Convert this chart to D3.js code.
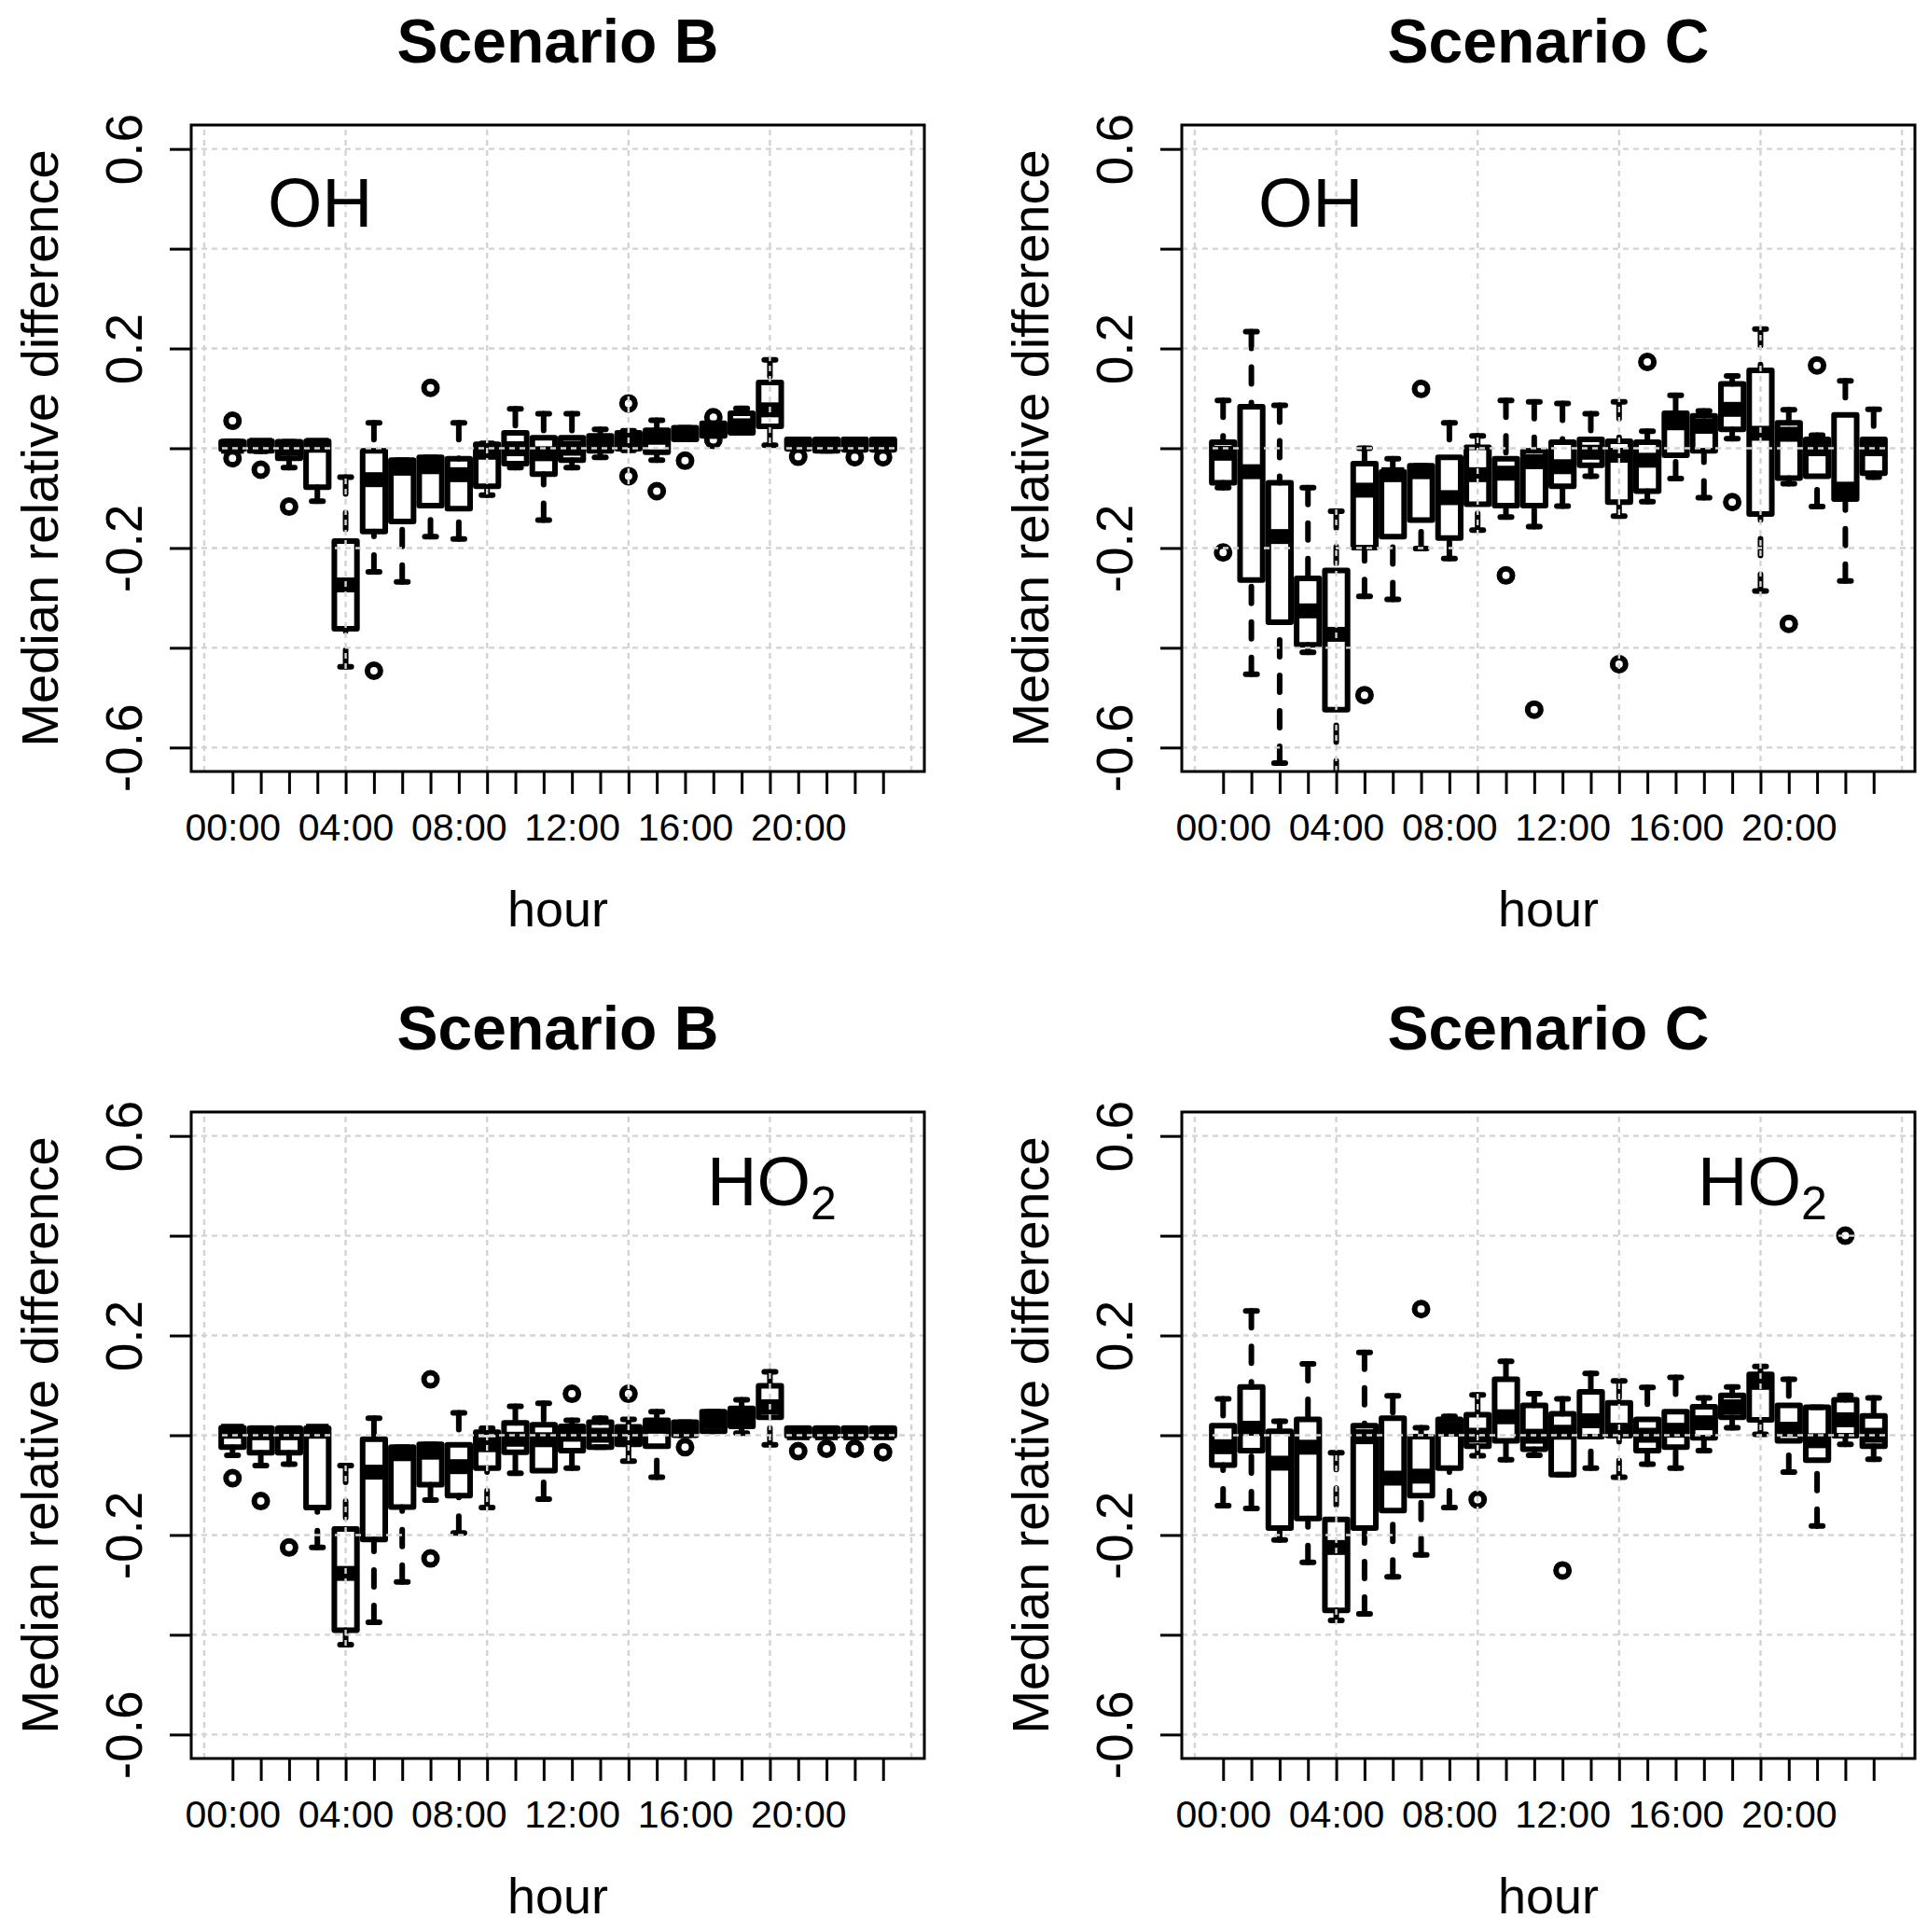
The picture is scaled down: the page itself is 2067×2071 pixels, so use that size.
<!DOCTYPE html>
<html>
<head>
<meta charset="utf-8">
<script src="https://cdn.jsdelivr.net/npm/d3@7/dist/d3.min.js"></script>
<style>
  body { margin: 0; background: #fff; }
  text { font-family: "Liberation Sans", Arial, Helvetica, sans-serif; }
</style>
</head>
<body>
<script>
var W = 2067, H = 2071;

// hour labels, one per box (R drops the overlapping ones, so only every 4th shows)
var hours = d3.range(24).map(function(h) { return (h < 10 ? "0" : "") + h + ":00"; });
var yTicks = [-0.6, -0.4, -0.2, 0, 0.2, 0.4, 0.6];
var yTickLabels = [-0.6, -0.2, 0.2, 0.6];

// box stats per hour: [lower whisker, Q1, median, Q3, upper whisker]
var ohB = [
  [-0.004, -0.002, 0.004, 0.013, 0.014], [-0.006, -0.005, 0.006, 0.014, 0.014],
  [-0.039, -0.020, 0.000, 0.013, 0.013], [-0.106, -0.078, 0.006, 0.014, 0.014],
  [-0.438, -0.362, -0.274, -0.186, -0.058], [-0.248, -0.167, -0.063, -0.005, 0.051],
  [-0.268, -0.147, -0.040, -0.024, -0.024], [-0.177, -0.115, -0.037, -0.018, -0.018],
  [-0.182, -0.121, -0.053, -0.021, 0.051], [-0.094, -0.076, -0.008, 0.008, 0.010],
  [-0.039, -0.031, -0.001, 0.031, 0.079], [-0.144, -0.052, -0.011, 0.021, 0.069],
  [-0.039, -0.024, 0.000, 0.021, 0.069], [-0.018, -0.005, 0.008, 0.025, 0.038],
  [-0.004, -0.001, 0.015, 0.031, 0.035], [-0.024, -0.008, 0.022, 0.036, 0.056],
  [0.018, 0.018, 0.030, 0.041, 0.041], [0.025, 0.025, 0.035, 0.050, 0.050],
  [0.031, 0.031, 0.045, 0.070, 0.080], [0.006, 0.044, 0.077, 0.132, 0.177],
  [-0.001, -0.001, 0.008, 0.018, 0.018], [-0.005, -0.005, 0.005, 0.018, 0.018],
  [-0.003, -0.003, 0.006, 0.018, 0.018], [-0.003, -0.003, 0.006, 0.018, 0.018]
];
// outliers: [hour index 1..24, value]
var ohB_out = [[1, 0.055], [1, -0.020], [2, -0.043], [3, -0.117], [6, -0.446], [8, 0.121],
  [15, 0.090], [15, -0.056], [16, -0.086], [17, -0.025], [18, 0.062], [18, 0.017],
  [21, -0.017], [23, -0.018], [24, -0.018]];

var ohC = [
  [-0.079, -0.069, -0.010, 0.012, 0.096], [-0.453, -0.264, -0.047, 0.083, 0.234],
  [-0.631, -0.349, -0.177, -0.069, 0.086], [-0.409, -0.394, -0.326, -0.261, -0.079],
  [-0.660, -0.524, -0.373, -0.245, -0.126], [-0.297, -0.199, -0.084, -0.031, 0.000],
  [-0.303, -0.177, -0.053, -0.047, -0.021], [-0.201, -0.144, -0.047, -0.035, -0.035],
  [-0.221, -0.180, -0.099, -0.018, 0.051], [-0.164, -0.112, -0.053, 0.002, 0.025],
  [-0.138, -0.115, -0.050, -0.021, 0.096], [-0.157, -0.115, -0.027, -0.005, 0.093],
  [-0.116, -0.076, -0.037, 0.012, 0.090], [-0.056, -0.034, -0.008, 0.018, 0.069],
  [-0.136, -0.108, -0.014, 0.014, 0.093], [-0.107, -0.086, -0.024, 0.012, 0.034],
  [-0.061, -0.014, 0.051, 0.070, 0.106], [-0.099, -0.005, 0.044, 0.065, 0.075],
  [0.019, 0.038, 0.078, 0.129, 0.145], [-0.286, -0.132, 0.030, 0.156, 0.239],
  [-0.071, -0.060, 0.028, 0.051, 0.077], [-0.117, -0.056, -0.001, 0.018, 0.026],
  [-0.266, -0.102, -0.082, 0.067, 0.135], [-0.058, -0.050, -0.001, 0.018, 0.078]
];
var ohC_out = [[1, -0.209], [6, -0.495], [8, 0.119], [11, -0.255], [12, -0.524], [15, -0.433],
  [16, 0.173], [19, -0.108], [21, -0.352], [22, 0.166]];

var ho2B = [
  [-0.040, -0.024, 0.008, 0.015, 0.015], [-0.061, -0.035, 0.005, 0.014, 0.014],
  [-0.058, -0.035, 0.005, 0.014, 0.014], [-0.225, -0.145, 0.008, 0.014, 0.014],
  [-0.420, -0.391, -0.277, -0.188, -0.061], [-0.375, -0.209, -0.074, -0.008, 0.034],
  [-0.294, -0.144, -0.037, -0.024, -0.024], [-0.130, -0.099, -0.034, -0.018, -0.018],
  [-0.196, -0.121, -0.063, -0.019, 0.045], [-0.145, -0.066, -0.019, 0.006, 0.014],
  [-0.076, -0.034, -0.008, 0.025, 0.058], [-0.128, -0.071, -0.009, 0.021, 0.064],
  [-0.066, -0.031, 0.002, 0.018, 0.030], [-0.024, -0.024, 0.000, 0.026, 0.034],
  [-0.052, -0.018, 0.000, 0.017, 0.032], [-0.084, -0.022, 0.018, 0.030, 0.047],
  [0.000, 0.000, 0.013, 0.026, 0.026], [0.008, 0.008, 0.028, 0.047, 0.047],
  [0.004, 0.018, 0.038, 0.054, 0.071], [-0.019, 0.036, 0.057, 0.099, 0.127],
  [-0.001, -0.001, 0.005, 0.014, 0.014], [-0.001, -0.001, 0.005, 0.014, 0.014],
  [-0.001, -0.001, 0.005, 0.014, 0.014], [-0.001, -0.001, 0.005, 0.014, 0.014]
];
var ho2B_out = [[1, -0.086], [2, -0.132], [3, -0.225], [8, 0.112], [8, -0.247], [13, 0.083],
  [15, 0.083], [17, -0.024], [21, -0.032], [22, -0.027], [23, -0.027], [24, -0.034]];

var ho2C = [
  [-0.141, -0.060, -0.023, 0.019, 0.073], [-0.147, -0.031, 0.014, 0.097, 0.249],
  [-0.210, -0.186, -0.056, 0.008, 0.028], [-0.255, -0.167, -0.024, 0.032, 0.143],
  [-0.371, -0.351, -0.225, -0.169, -0.035], [-0.358, -0.186, -0.003, 0.019, 0.166],
  [-0.284, -0.151, -0.086, 0.034, 0.079], [-0.240, -0.121, -0.082, -0.003, 0.015],
  [-0.145, -0.066, 0.012, 0.032, 0.038], [-0.041, -0.022, 0.000, 0.041, 0.081],
  [-0.049, -0.011, 0.037, 0.112, 0.148], [-0.040, -0.028, -0.002, 0.060, 0.083],
  [-0.079, -0.079, 0.006, 0.043, 0.073], [-0.066, -0.003, 0.029, 0.087, 0.124],
  [-0.084, -0.001, 0.010, 0.065, 0.109], [-0.058, -0.031, 0.000, 0.032, 0.096],
  [-0.066, -0.024, 0.010, 0.047, 0.116], [-0.031, -0.005, 0.025, 0.057, 0.075],
  [0.015, 0.036, 0.057, 0.080, 0.097], [0.002, 0.031, 0.106, 0.122, 0.138],
  [-0.074, -0.011, 0.012, 0.060, 0.112], [-0.182, -0.050, -0.011, 0.056, 0.056],
  [-0.018, -0.001, 0.031, 0.071, 0.080], [-0.048, -0.022, 0.000, 0.039, 0.075]
];
var ho2C_out = [[8, 0.253], [10, -0.129], [13, -0.271], [23, 0.400]];

var panels = [
  { title: "Scenario B", species: "OH",  stats: ohB,  out: ohB_out,  col: 0, row: 0 },
  { title: "Scenario C", species: "OH",  stats: ohC,  out: ohC_out,  col: 1, row: 0 },
  { title: "Scenario B", species: "HO2", stats: ho2B, out: ho2B_out, col: 0, row: 1 },
  { title: "Scenario C", species: "HO2", stats: ho2C, out: ho2C_out, col: 1, row: 1 }
];

var svg = d3.select("body").append("svg")
  .attr("width", W).attr("height", H)
  .attr("xmlns", "http://www.w3.org/2000/svg");
svg.append("rect").attr("width", W).attr("height", H).attr("fill", "#fff");

var plotW = 786, plotTop = 134, plotBot = 827;
var lwd = 6;
var grey = "#d3d3d3";

panels.forEach(function(p, k) {
  var dx = p.col * 1062, dy = p.row * 1058;
  var left = 205 + dx, right = left + plotW;
  var top = plotTop + dy, bot = plotBot + dy;

  var x = d3.scaleLinear().domain([-0.46, 25.46]).range([left, right]);
  var y = d3.scaleLinear().domain([-0.648, 0.648]).range([bot, top]);
  var half = x(0.4) - x(0);

  var g = svg.append("g");
  var clipId = "clip" + k;
  g.append("clipPath").attr("id", clipId)
    .append("rect").attr("x", left).attr("y", top).attr("width", right - left).attr("height", bot - top);

  var boxes = g.append("g").attr("clip-path", "url(#" + clipId + ")")
    .selectAll("g.bx").data(p.stats).enter().append("g").attr("class", "bx");

  // whiskers, drawn from the whisker end towards the box
  boxes.each(function(s, i) {
    var b = d3.select(this), cx = x(i + 1);
    [[s[0], s[1]], [s[4], s[3]]].forEach(function(w) {
      if (Math.abs(w[0] - w[1]) > 1e-9) {
        b.append("line").attr("x1", cx).attr("x2", cx)
          .attr("y1", y(w[0])).attr("y2", y(w[1]))
          .attr("stroke", "#000").attr("stroke-width", lwd)
          .attr("stroke-dasharray", "18,20").attr("stroke-linecap", "round");
      }
      b.append("line").attr("x1", cx - half / 2).attr("x2", cx + half / 2)
        .attr("y1", y(w[0])).attr("y2", y(w[0]))
        .attr("stroke", "#000").attr("stroke-width", lwd).attr("stroke-linecap", "round");
    });
    b.append("rect").attr("x", cx - half).attr("width", 2 * half)
      .attr("y", y(s[3])).attr("height", Math.max(0.5, y(s[1]) - y(s[3])))
      .attr("fill", "none").attr("stroke", "#000").attr("stroke-width", lwd)
      .attr("stroke-linejoin", "round");
    b.append("line").attr("x1", cx - half).attr("x2", cx + half)
      .attr("y1", y(s[2])).attr("y2", y(s[2]))
      .attr("stroke", "#000").attr("stroke-width", 16).attr("stroke-linecap", "butt");
  });

  g.append("g").attr("clip-path", "url(#" + clipId + ")")
    .selectAll("circle").data(p.out).enter().append("circle")
    .attr("cx", function(d) { return x(d[0]); })
    .attr("cy", function(d) { return y(d[1]); })
    .attr("r", 7).attr("fill", "none").attr("stroke", "#000").attr("stroke-width", 6);

  // grid() is called after boxplot, so it lies over the boxes
  var grid = g.append("g").attr("stroke", grey).attr("stroke-width", 2.4).attr("stroke-dasharray", "6,5");
  grid.selectAll("line.v").data([0, 5, 10, 15, 20, 25]).enter().append("line")
    .attr("x1", function(d) { return x(d); }).attr("x2", function(d) { return x(d); })
    .attr("y1", bot).attr("y2", top);
  grid.selectAll("line.h").data(yTicks).enter().append("line")
    .attr("y1", function(d) { return y(d); }).attr("y2", function(d) { return y(d); })
    .attr("x1", left).attr("x2", right);

  g.append("rect").attr("x", left).attr("y", top).attr("width", right - left).attr("height", bot - top)
    .attr("fill", "none").attr("stroke", "#000").attr("stroke-width", 3);

  // axes
  var yAxis = g.append("g").attr("transform", "translate(" + left + ",0)")
    .call(d3.axisLeft(y).tickValues(yTicks).tickSize(23)
      .tickFormat(function(d) { return yTickLabels.indexOf(d) >= 0 ? d.toFixed(1) : ""; }));
  yAxis.select(".domain").remove();
  yAxis.selectAll("line").attr("stroke-width", 3);
  yAxis.selectAll("text").attr("x", null).attr("dy", null)
    .attr("transform", "translate(-53,0) rotate(-90)")
    .attr("text-anchor", "middle").attr("font-size", 55).attr("fill", "#000")
    .attr("font-family", "Liberation Sans, Arial, sans-serif");

  var xAxis = g.append("g").attr("transform", "translate(0," + bot + ")")
    .call(d3.axisBottom(x).tickValues(d3.range(1, 25)).tickSize(24).tickPadding(21)
      .tickFormat(function(d) { return (d - 1) % 4 === 0 ? hours[d - 1] : ""; }));
  xAxis.select(".domain").remove();
  xAxis.selectAll("line").attr("stroke-width", 3);
  xAxis.selectAll("text").attr("font-size", 41).attr("fill", "#000")
    .attr("font-family", "Liberation Sans, Arial, sans-serif");

  // titles and labels
  var cxm = (left + right) / 2;
  g.append("text").attr("x", cxm).attr("y", 67 + dy).attr("text-anchor", "middle")
    .attr("font-size", 66).attr("font-weight", "bold").text(p.title);
  g.append("text").attr("transform", "translate(" + (62 + dx) + "," + ((top + bot) / 2) + ") rotate(-90)")
    .attr("text-anchor", "middle").attr("font-size", 56).text("Median relative difference");
  g.append("text").attr("x", cxm).attr("y", 993 + dy).attr("text-anchor", "middle")
    .attr("font-size", 54).text("hour");

  if (p.species === "OH") {
    g.append("text").attr("x", 287 + dx).attr("y", 243 + dy).attr("font-size", 75).text("OH");
  } else {
    var t = g.append("text").attr("x", 758 + dx).attr("y", 1292).attr("font-size", 74);
    t.append("tspan").text("HO");
    t.append("tspan").attr("font-size", 50).attr("dy", 15).text("2");
  }
});
</script>
</body>
</html>
